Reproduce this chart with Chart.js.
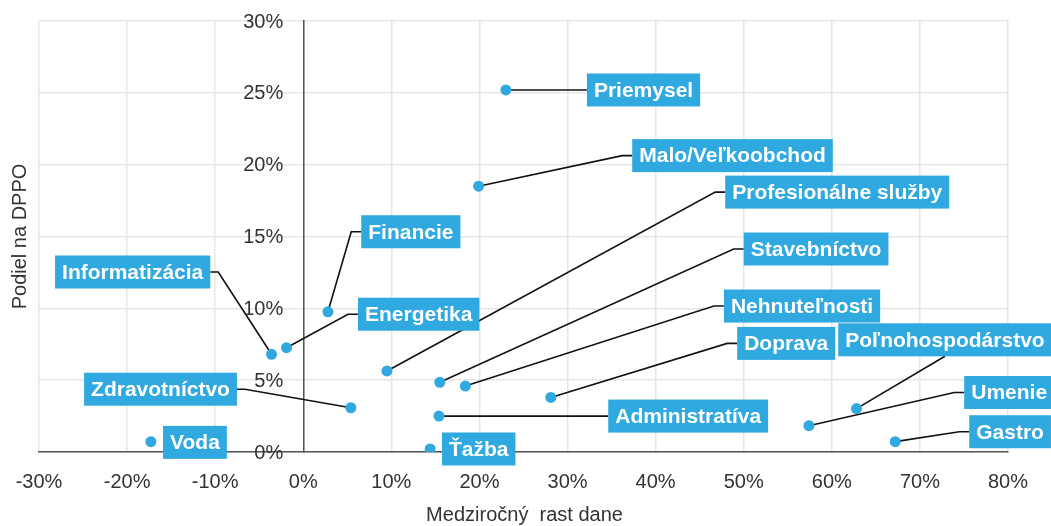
<!DOCTYPE html>
<html>
<head>
<meta charset="utf-8">
<script src="https://cdn.jsdelivr.net/npm/chart.js@4/dist/chart.umd.min.js"></script>
<style>
    body { margin: 0; background: #fff; }
    #wrap { width: 1051px; height: 526px; }
</style>
</head>
<body>
<div id="wrap"><canvas id="sectorChart" width="1051" height="526"></canvas></div>
<script>
// Sectors: year-on-year tax growth (x, %) vs share of DPPO (y, %)
const sectors = ['Priemysel', 'Malo/Veľkoobchod', 'Financie', 'Informatizácia', 'Energetika',
    'Zdravotníctvo', 'Voda', 'Profesionálne služby', 'Stavebníctvo', 'Nehnuteľnosti',
    'Doprava', 'Administratíva', 'Ťažba', 'Poľnohospodárstvo', 'Umenie', 'Gastro'];
const growth = [23.0, 19.9, 2.8, -3.6, -1.9, 5.4, -17.3, 9.5, 15.5, 18.4, 28.1, 15.4, 14.4, 62.8, 57.4, 67.2];
const share  = [25.2, 18.5, 9.76, 6.8, 7.26, 3.08, 0.72, 5.64, 4.85, 4.59, 3.8, 2.5, 0.21, 3.02, 1.83, 0.72];

// Callout placement (in axis units) and how the leader line attaches
const labelX    = [32.2, 37.34, 6.58, -10.56, 6.21, -7.53, -15.92, 47.9, 50.0, 47.75, 49.26, 34.62, 15.74, 72.84, 75.03, 75.6];
const labelY    = [25.2, 20.63, 15.33, 12.53, 9.59, 4.37, 0.67, 18.09, 14.13, 10.16, 7.56, 2.5, 0.21, 7.81, 4.14, 1.41];
const labelLink = ['left', 'left', 'left', 'right', 'left', 'right', 'none', 'left', 'left', 'left',
    'left', 'left', 'none', 'bottom', 'left', 'left'];

const BLUE = '#2FA9DF';
const FONT_FAMILY = '"Liberation Sans", Arial, sans-serif';
const LABEL_FONT = 'bold 21px ' + FONT_FAMILY;

function labelBoxes(chart) {
    const xs = chart.scales.x, ys = chart.scales.y;
    const ctx = chart.ctx;
    ctx.save();
    ctx.font = LABEL_FONT;
    const boxes = sectors.map((name, i) => {
        const w = ctx.measureText(name).width + 14;
        const h = 33;
        const ax = xs.getPixelForValue(labelX[i]);
        const cy = ys.getPixelForValue(labelY[i]);
        let left;
        if (labelLink[i] === 'right') left = ax - w;
        else if (labelLink[i] === 'bottom') left = ax - w / 2;
        else left = ax;
        return { name, left, top: cy - h / 2, w, h, cy,
            px: xs.getPixelForValue(growth[i]), py: ys.getPixelForValue(share[i]), link: labelLink[i] };
    });
    ctx.restore();
    return boxes;
}

const calloutPlugin = {
    id: 'callouts',
    beforeDatasetsDraw(chart) {
        const ctx = chart.ctx;
        ctx.save();
        ctx.strokeStyle = '#111';
        ctx.lineWidth = 1.6;
        labelBoxes(chart).forEach(b => {
            if (b.link === 'none') return;
            ctx.beginPath();
            ctx.moveTo(b.px, b.py);
            if (b.link === 'left') {
                ctx.lineTo(b.left - 10, b.cy);
                ctx.lineTo(b.left, b.cy);
            } else if (b.link === 'right') {
                ctx.lineTo(b.left + b.w + 8, b.cy);
                ctx.lineTo(b.left + b.w, b.cy);
            } else {
                ctx.lineTo(b.left + b.w / 2, b.top + b.h);
            }
            ctx.stroke();
        });

        // y tick labels sit left of the 0% axis line
        const ys = chart.scales.y;
        const x0 = chart.scales.x.getPixelForValue(0);
        ctx.font = '20px ' + FONT_FAMILY;
        ctx.fillStyle = '#333';
        ctx.textAlign = 'right';
        ctx.textBaseline = 'middle';
        ys.ticks.forEach(t => {
            ctx.fillText(t.value + '%', x0 - 20, ys.getPixelForValue(t.value) + 1);
        });
        ctx.restore();
    },
    afterDatasetsDraw(chart) {
        const ctx = chart.ctx;
        ctx.save();
        ctx.font = LABEL_FONT;
        ctx.textBaseline = 'middle';
        ctx.textAlign = 'center';
        labelBoxes(chart).forEach(b => {
            ctx.fillStyle = BLUE;
            ctx.fillRect(b.left, b.top, b.w, b.h);
            ctx.fillStyle = '#fff';
            ctx.fillText(b.name, b.left + b.w / 2, b.cy + 1);
        });
        ctx.restore();
    },
    afterDraw(chart) {
        // axis titles
        const ctx = chart.ctx;
        const area = chart.chartArea;
        ctx.save();
        ctx.font = '20px ' + FONT_FAMILY;
        ctx.fillStyle = '#333';
        ctx.textAlign = 'center';
        ctx.textBaseline = 'middle';
        ctx.fillText('Medziročný  rast dane', (area.left + area.right) / 2 + 1, 515);
        ctx.translate(20, (area.top + area.bottom) / 2);
        ctx.rotate(-Math.PI / 2);
        ctx.fillText('Podiel na DPPO', 0, 0);
        ctx.restore();
    }
};

new Chart(document.getElementById('sectorChart'), {
    type: 'scatter',
    data: {
        datasets: [{
            data: growth.map((g, i) => ({ x: g, y: share[i] })),
            backgroundColor: BLUE,
            borderWidth: 0,
            pointRadius: 5.5,
            pointHoverRadius: 5.5
        }]
    },
    options: {
        responsive: false,
        animation: false,
        events: [],
        layout: { padding: { left: 39, right: 43, top: 21, bottom: 14 } },
        scales: {
            x: {
                type: 'linear',
                min: -30,
                max: 80,
                afterFit(scale) {
                    scale.paddingLeft = 0;
                    scale.paddingRight = 0;
                },
                ticks: {
                    stepSize: 10,
                    padding: 18,
                    color: '#333',
                    font: { size: 20, family: FONT_FAMILY },
                    callback: v => v + '%'
                },
                grid: { color: '#e6e6e6', lineWidth: 1.5, drawTicks: false },
                border: { color: '#555', width: 1.5 }
            },
            y: {
                type: 'linear',
                position: { x: 0 },
                min: 0,
                max: 30,
                afterFit(scale) {
                    scale.paddingTop = 0;
                    scale.paddingBottom = 0;
                },
                ticks: {
                    stepSize: 5,
                    display: false
                },
                grid: { color: '#e6e6e6', lineWidth: 1.5, drawTicks: false },
                border: { color: '#555', width: 1.5 }
            }
        },
        plugins: {
            legend: { display: false },
            tooltip: { enabled: false }
        }
    },
    plugins: [calloutPlugin]
});
</script>
</body>
</html>
